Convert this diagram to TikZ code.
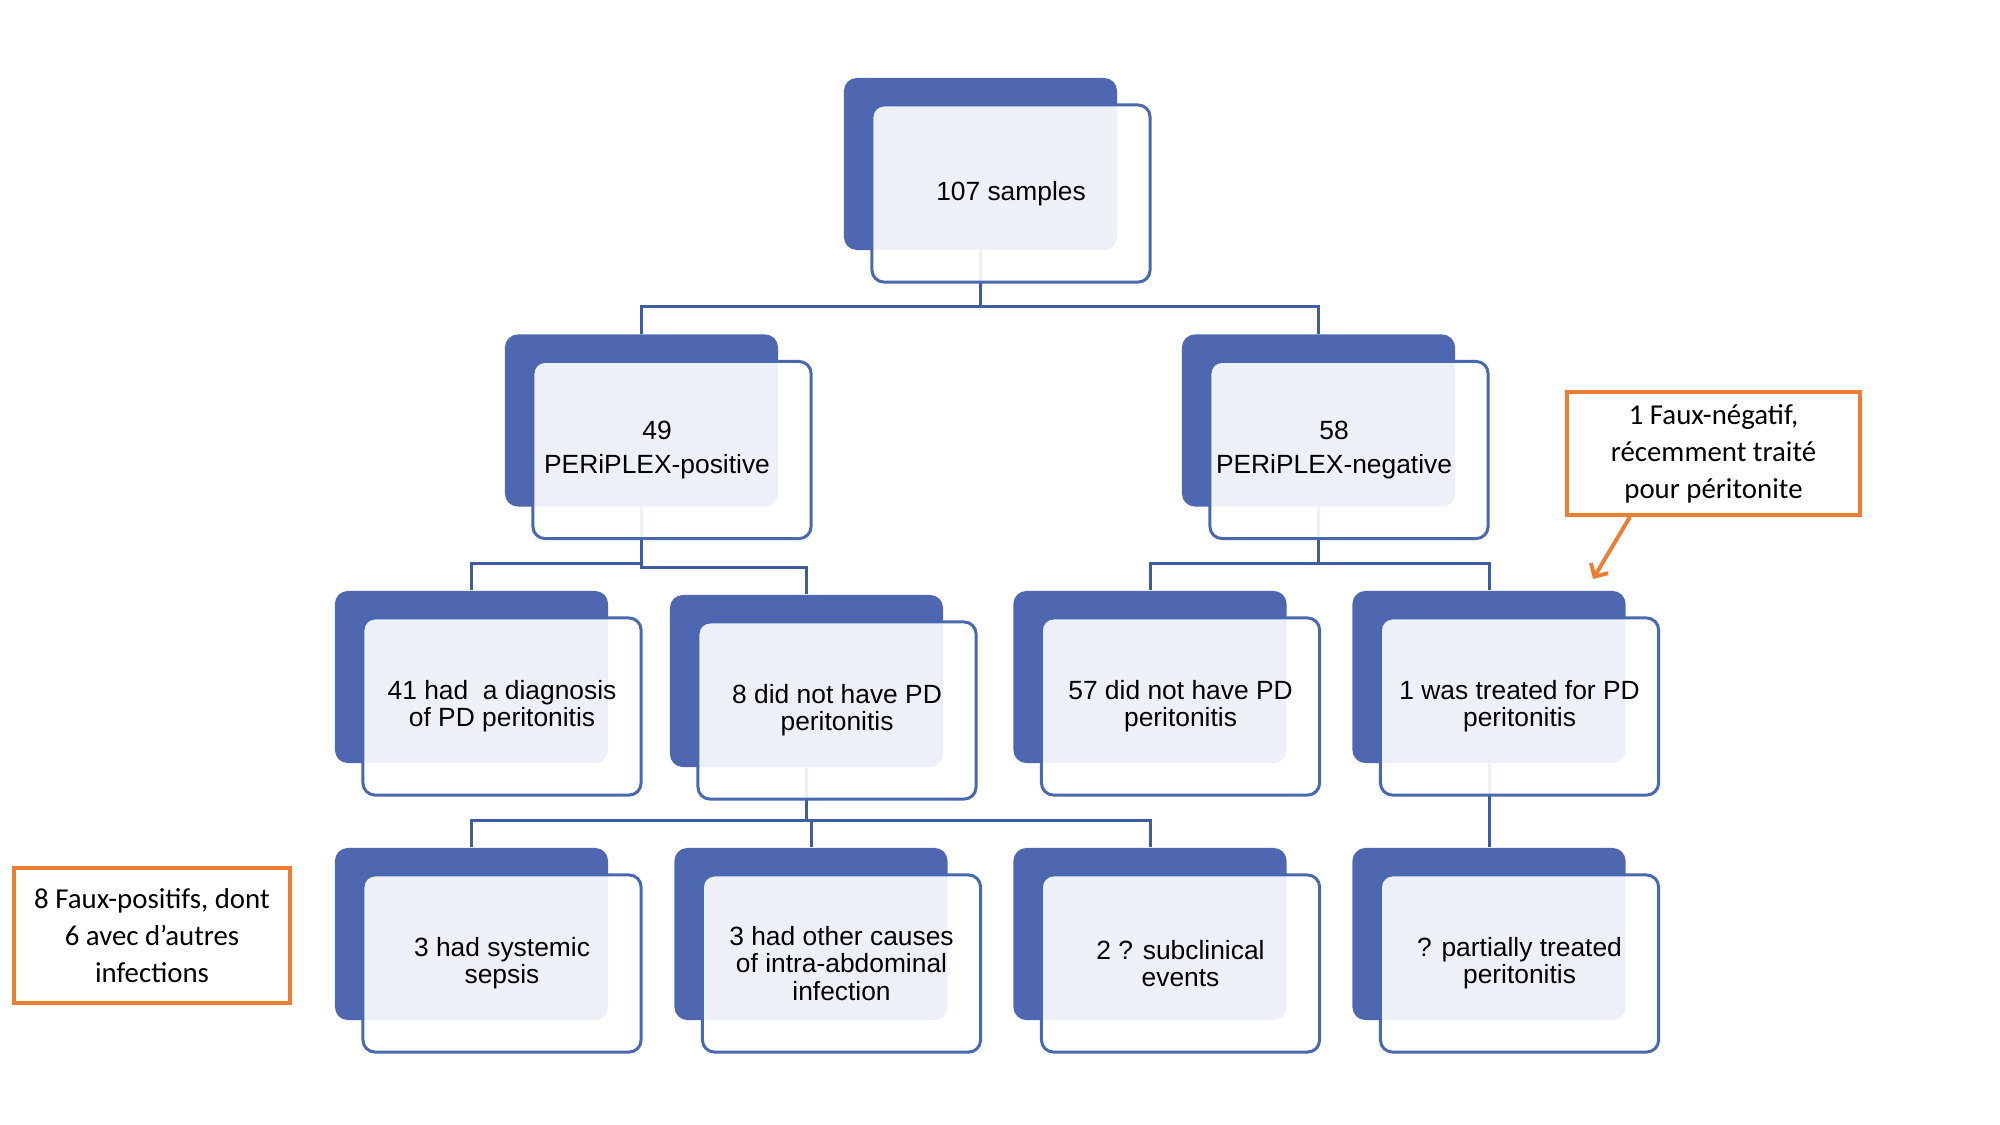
\documentclass[tikz,border=0pt]{standalone}
\usepackage{fontspec}
\setmainfont{Liberation Sans}
\newfontfamily\callfont{Carlito}
\usetikzlibrary{arrows.meta,backgrounds}
\definecolor{darkbox}{RGB}{79,103,177}
\definecolor{rimblue}{RGB}{72,104,176}
\definecolor{linkblue}{RGB}{62,92,160}
\definecolor{noteorange}{RGB}{237,125,49}
\begin{document}
\begin{tikzpicture}[x=0.01cm,y=-0.01cm,
 back node/.style={fill=darkbox,rounded corners=0.13cm,minimum width=2.73cm,minimum height=1.72cm,inner sep=0},
 front node/.style={draw=rimblue,line width=0.85pt,fill=white,fill opacity=0.9,
   rounded corners=0.12cm,minimum width=2.78cm,minimum height=1.77cm,inner sep=0},
 label node/.style={align=center,inner sep=0,font=\fontsize{7.5}{7.7}\selectfont},
 link/.style={draw=linkblue,line width=0.85pt},
 note node/.style={draw=noteorange,line width=1.1pt,fill=white,minimum width=2.93cm,minimum height=1.23cm,
   inner sep=0,align=center,font=\callfont\fontsize{8.2}{10.5}\selectfont},
 note arrow/.style={draw=noteorange,line width=1.1pt,-{Straight Barb[length=0.1cm,width=0.2cm]}}]

  \useasboundingbox (0,0) rectangle (2000,1125);

  \foreach \n/\x/\y/\dx/\t in {top/980.5/164/0/107 samples,
    pos/641.5/420.5/-0.15/{49\\[1.7pt]PERiPLEX-positive}, neg/1318.5/420.5/-0.15/{58\\[1.7pt]PERiPLEX-negative},
    a/471.5/677/0/{41 had\ \ a diagnosis\\of PD peritonitis}, b/806.5/681/0/{8 did not have PD\\peritonitis},
    c/1150/677/0/{57 did not have PD\\peritonitis}, d/1489/677/0/{1 was treated for PD\\peritonitis},
    e/471.5/934/0/{3 had systemic\\sepsis}, f/811/934/0/{3 had other causes\\of intra-abdominal\\infection},
    g/1150/934/0/{2 ? subclinical\\events}, h/1489/934/0/{? partially treated\\peritonitis}} {
   \node[back node] (b\n) at (\x,\y) {};
   \node[front node] (f\n) at ([xshift=0.305cm,yshift=-0.295cm]b\n.center) {};
   \node[label node] (t\n) at ([xshift=\dx cm]f\n.center) {\t};}

  \begin{scope}[on background layer]
  \foreach \s/\t in {top/pos, top/neg, pos/a, pos/b, neg/c, neg/d, b/e, b/f, b/g, d/h} {
   \path[link] (b\s.south) |- ([yshift=0.27cm]b\t.north) -- (b\t.north);}
  \end{scope}

  \node[note node] (fneg) at (1713.5,453.5) {1 Faux-négatif,\\récemment traité\\pour péritonite};
  \node[note node,minimum width=2.76cm,minimum height=1.35cm] (fpos) at (152,935.5)
    {8 Faux-positifs, dont\\6 avec d’autres\\infections};
  \coordinate (tip) at (1593,579);
  \draw[note arrow] ([xshift=-0.835cm]fneg.south) -- (tip);
\end{tikzpicture}
\end{document}
